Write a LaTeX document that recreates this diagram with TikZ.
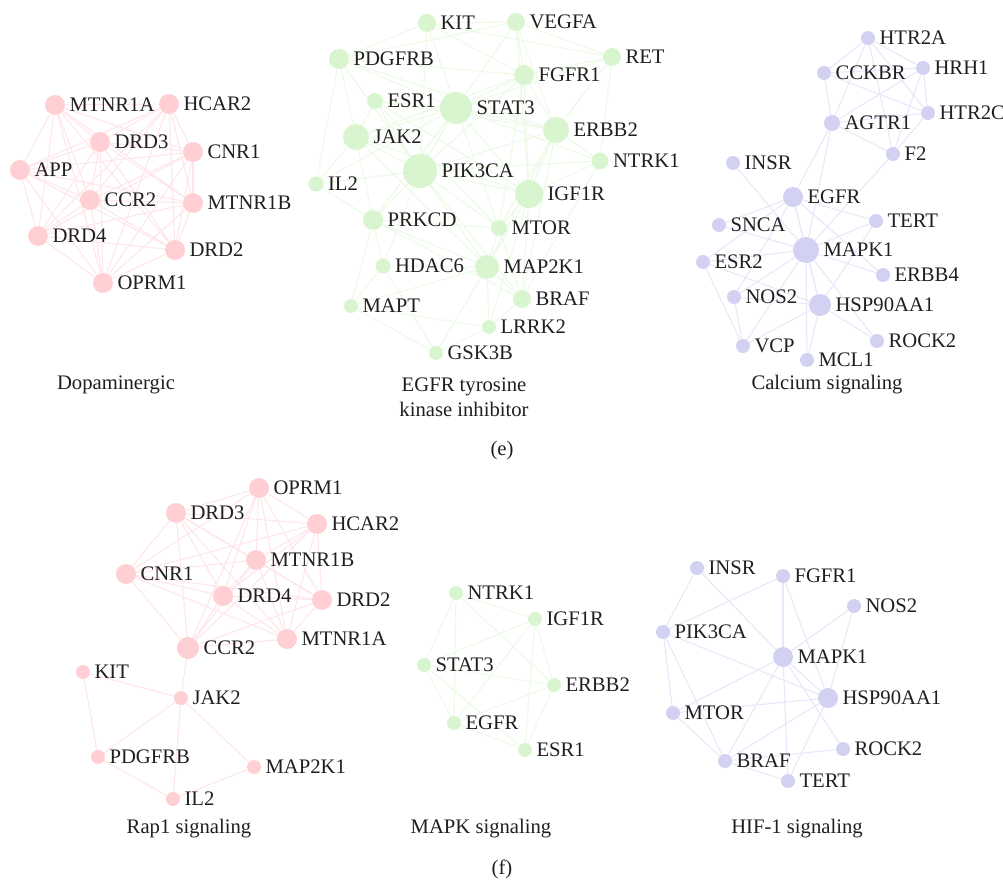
\documentclass[tikz,border=0pt]{standalone}
\usepackage{fontspec}
\setmainfont{Liberation Serif}
\usetikzlibrary{backgrounds}
\definecolor{pinkn}{RGB}{255,207,212}
\definecolor{pinke}{RGB}{254,231,235}
\definecolor{greenn}{RGB}{216,245,207}
\definecolor{greene}{RGB}{236,250,231}
\definecolor{purpn}{RGB}{211,209,241}
\definecolor{purpe}{RGB}{233,232,250}
\newcommand\nd[6]{\node[#1, minimum size={#5*1.5pt}, label={[lab]0:#6}] (#2) at (#3,#4) {};}
\tikzset{
  pn/.style={circle, fill=pinkn, inner sep=0pt, draw=none},
  gn/.style={circle, fill=greenn, inner sep=0pt, draw=none},
  un/.style={circle, fill=purpn, inner sep=0pt, draw=none},
  lab/.style={font=\fontsize{15.5}{17}\selectfont, text=black!88, inner sep=0pt, label distance=3pt, text depth=0pt},
  pe/.style={draw=pinke, line width=0.85pt},
  ge/.style={draw=greene, line width=0.85pt},
  ue/.style={draw=purpe, line width=0.85pt},
  captext/.style={font=\fontsize{15.5}{19}\selectfont, text=black!88, align=center, inner sep=0pt}
}
\begin{document}
\begin{tikzpicture}[x=0.75pt,y=-0.75pt]
\useasboundingbox (0,0) rectangle (1003,880);
% ---------- Dopaminergic ----------
\nd{pn}{dA}{55}{105}{10}{MTNR1A}
\nd{pn}{dB}{169}{104}{10}{HCAR2}
\nd{pn}{dC}{100}{142}{10}{DRD3}
\nd{pn}{dD}{193}{152}{10}{CNR1}
\nd{pn}{dE}{20}{170}{10}{APP}
\nd{pn}{dF}{90}{200}{10}{CCR2}
\nd{pn}{dG}{193}{203}{10}{MTNR1B}
\nd{pn}{dH}{38}{236}{10}{DRD4}
\nd{pn}{dI}{175}{250}{10}{DRD2}
\nd{pn}{dJ}{103}{283}{10}{OPRM1}
\node[captext] (capd) at (116,385) {Dopaminergic};
% ---------- EGFR ----------
\nd{gn}{eKIT}{427}{23}{9}{KIT}
\nd{gn}{eVEGFA}{516}{22}{9}{VEGFA}
\nd{gn}{ePDGFRB}{339}{59}{10}{PDGFRB}
\nd{gn}{eRET}{612}{57}{9}{RET}
\nd{gn}{eFGFR1}{524}{75}{10}{FGFR1}
\nd{gn}{eESR1}{375}{101}{8}{ESR1}
\nd{gn}{eSTAT3}{456}{108}{16}{STAT3}
\nd{gn}{eERBB2}{556}{130}{13}{ERBB2}
\nd{gn}{eJAK2}{356}{137}{13}{JAK2}
\nd{gn}{eNTRK1}{600}{161}{8.5}{NTRK1}
\nd{gn}{ePIK3CA}{420}{171}{17}{PIK3CA}
\nd{gn}{eIL2}{316}{184}{7.5}{IL2}
\nd{gn}{eIGF1R}{529}{194}{14}{IGF1R}
\nd{gn}{ePRKCD}{373}{220}{10}{PRKCD}
\nd{gn}{eMTOR}{499}{228}{8}{MTOR}
\nd{gn}{eHDAC6}{383}{266}{7.5}{HDAC6}
\nd{gn}{eMAP2K1}{487}{267}{12}{MAP2K1}
\nd{gn}{eMAPT}{351}{306}{7}{MAPT}
\nd{gn}{eBRAF}{522}{299}{9}{BRAF}
\nd{gn}{eLRRK2}{489}{327}{7}{LRRK2}
\nd{gn}{eGSK3B}{436}{353}{7}{GSK3B}
\node[captext] (cape) at (464,397) {EGFR tyrosine\\kinase inhibitor};
% ---------- Calcium ----------
\nd{un}{cHTR2A}{868}{38}{7}{HTR2A}
\nd{un}{cCCKBR}{824}{73}{7}{CCKBR}
\nd{un}{cHRH1}{923}{68}{7}{HRH1}
\nd{un}{cHTR2C}{928}{113}{7}{HTR2C}
\nd{un}{cAGTR1}{832}{123}{8}{AGTR1}
\nd{un}{cF2}{893}{154}{7}{F2}
\nd{un}{cINSR}{733}{163}{7}{INSR}
\nd{un}{cEGFR}{793}{197}{10}{EGFR}
\nd{un}{cTERT}{876}{221}{7}{TERT}
\nd{un}{cSNCA}{719}{225}{7}{SNCA}
\nd{un}{cMAPK1}{806}{250}{13}{MAPK1}
\nd{un}{cESR2}{703}{262}{7}{ESR2}
\nd{un}{cERBB4}{883}{275}{7}{ERBB4}
\nd{un}{cNOS2}{734}{297}{7}{NOS2}
\nd{un}{cHSP}{820}{305}{11}{HSP90AA1}
\nd{un}{cROCK2}{877}{341}{7}{ROCK2}
\nd{un}{cVCP}{743}{346}{7}{VCP}
\nd{un}{cMCL1}{807}{360}{7}{MCL1}
\node[captext] (capc) at (827,385) {Calcium signaling};
\node[captext] (cape2) at (502,451) {(e)};
% ---------- Rap1 ----------
\nd{pn}{rOPRM1}{259}{488}{10}{OPRM1}
\nd{pn}{rDRD3}{176}{513}{10}{DRD3}
\nd{pn}{rHCAR2}{317}{524}{10}{HCAR2}
\nd{pn}{rMTNR1B}{256}{560}{10}{MTNR1B}
\nd{pn}{rCNR1}{126}{574}{10}{CNR1}
\nd{pn}{rDRD4}{223}{596}{10}{DRD4}
\nd{pn}{rDRD2}{322}{600}{10}{DRD2}
\nd{pn}{rMTNR1A}{287}{639}{10}{MTNR1A}
\nd{pn}{rCCR2}{188}{648}{11}{CCR2}
\nd{pn}{rKIT}{83}{672}{7}{KIT}
\nd{pn}{rJAK2}{181}{698}{7}{JAK2}
\nd{pn}{rPDGFRB}{98}{757}{7}{PDGFRB}
\nd{pn}{rMAP2K1}{254}{767}{7}{MAP2K1}
\nd{pn}{rIL2}{173}{799}{7}{IL2}
\node[captext] (capr) at (189,829) {Rap1 signaling};
% ---------- MAPK ----------
\nd{gn}{mNTRK1}{456}{593}{7}{NTRK1}
\nd{gn}{mIGF1R}{535}{619}{7}{IGF1R}
\nd{gn}{mSTAT3}{424}{665}{7}{STAT3}
\nd{gn}{mERBB2}{554}{685}{7}{ERBB2}
\nd{gn}{mEGFR}{454}{723}{7}{EGFR}
\nd{gn}{mESR1}{525}{750}{7}{ESR1}
\node[captext] (capm) at (481,829) {MAPK signaling};
% ---------- HIF-1 ----------
\nd{un}{hINSR}{697}{568}{7}{INSR}
\nd{un}{hFGFR1}{783}{576}{7}{FGFR1}
\nd{un}{hNOS2}{854}{606}{7}{NOS2}
\nd{un}{hPIK3CA}{663}{632}{7}{PIK3CA}
\nd{un}{hMAPK1}{783}{657}{10}{MAPK1}
\nd{un}{hHSP}{828}{698}{10}{HSP90AA1}
\nd{un}{hMTOR}{673}{713}{7}{MTOR}
\nd{un}{hROCK2}{843}{749}{7}{ROCK2}
\nd{un}{hBRAF}{725}{761}{7}{BRAF}
\nd{un}{hTERT}{788}{781}{7}{TERT}
\node[captext] (caph) at (797,829) {HIF-1 signaling};
\node[captext] (capf) at (502,869) {(f)};
% ---------- edges ----------
\begin{pgfonlayer}{background}
\foreach \a [count=\i] in {dA,dB,dC,dD,dE,dF,dG,dH,dI,dJ}
  \foreach \b [count=\j] in {dA,dB,dC,dD,dE,dF,dG,dH,dI,dJ}
    {\ifnum\j>\i \draw[pe] (\a) -- (\b);\fi}
\foreach \a [count=\i] in {rOPRM1,rDRD3,rHCAR2,rMTNR1B,rCNR1,rDRD4,rDRD2,rMTNR1A,rCCR2}
  \foreach \b [count=\j] in {rOPRM1,rDRD3,rHCAR2,rMTNR1B,rCNR1,rDRD4,rDRD2,rMTNR1A,rCCR2}
    {\ifnum\j>\i \draw[pe] (\a) -- (\b);\fi}
\foreach \a/\b in {rCCR2/rJAK2,rKIT/rJAK2,rKIT/rPDGFRB,rJAK2/rPDGFRB,rJAK2/rIL2,rJAK2/rMAP2K1,rPDGFRB/rIL2,rIL2/rMAP2K1}
  \draw[pe] (\a) -- (\b);
\foreach \a/\b in {eKIT/ePDGFRB,eKIT/eVEGFA,eKIT/eSTAT3,eKIT/ePIK3CA,eKIT/eFGFR1,eKIT/eRET,eVEGFA/eRET,eVEGFA/eFGFR1,eVEGFA/eSTAT3,eVEGFA/eERBB2,eVEGFA/eIGF1R,eVEGFA/ePDGFRB,ePDGFRB/eJAK2,ePDGFRB/eIL2,ePDGFRB/eSTAT3,ePDGFRB/eERBB2,ePDGFRB/ePIK3CA,ePDGFRB/eFGFR1,eRET/eFGFR1,eRET/eERBB2,eRET/eNTRK1,eRET/eSTAT3,eFGFR1/eSTAT3,eFGFR1/eERBB2,eFGFR1/eIGF1R,eFGFR1/ePIK3CA,eFGFR1/eMTOR,eFGFR1/eJAK2,eESR1/eSTAT3,eESR1/eERBB2,eESR1/eJAK2,eESR1/ePIK3CA,eESR1/eIGF1R,eESR1/eMTOR,eSTAT3/eJAK2,eSTAT3/ePIK3CA,eSTAT3/eERBB2,eSTAT3/eIGF1R,eSTAT3/eMTOR,eSTAT3/eIL2,eSTAT3/eNTRK1,eSTAT3/ePRKCD,eERBB2/ePIK3CA,eERBB2/eIGF1R,eERBB2/eNTRK1,eERBB2/eMAP2K1,eERBB2/eMTOR,eERBB2/eBRAF,eJAK2/ePIK3CA,eJAK2/eIL2,eJAK2/ePRKCD,eJAK2/eIGF1R,eJAK2/eMAP2K1,eNTRK1/ePIK3CA,eNTRK1/eIGF1R,eNTRK1/eBRAF,ePIK3CA/eIGF1R,ePIK3CA/eMTOR,ePIK3CA/ePRKCD,ePIK3CA/eMAP2K1,ePIK3CA/eHDAC6,ePIK3CA/eIL2,ePIK3CA/eBRAF,eIL2/ePRKCD,eIGF1R/eMTOR,eIGF1R/eMAP2K1,eIGF1R/eBRAF,eIGF1R/eLRRK2,ePRKCD/eMTOR,ePRKCD/eMAP2K1,ePRKCD/eHDAC6,ePRKCD/eMAPT,ePRKCD/eBRAF,eMTOR/eMAP2K1,eMTOR/eBRAF,eHDAC6/eMAP2K1,eHDAC6/eMAPT,eHDAC6/eGSK3B,eMAP2K1/eBRAF,eMAP2K1/eLRRK2,eMAP2K1/eGSK3B,eMAPT/eGSK3B,eMAPT/eLRRK2,eMAPT/eMAP2K1,eBRAF/eLRRK2,eLRRK2/eGSK3B}
  \draw[ge] (\a) -- (\b);
\foreach \a/\b in {mNTRK1/mIGF1R,mNTRK1/mSTAT3,mNTRK1/mEGFR,mNTRK1/mERBB2,mIGF1R/mSTAT3,mIGF1R/mEGFR,mIGF1R/mESR1,mIGF1R/mERBB2,mSTAT3/mERBB2,mSTAT3/mEGFR,mSTAT3/mESR1,mERBB2/mEGFR,mERBB2/mESR1,mEGFR/mESR1}
  \draw[ge] (\a) -- (\b);
\foreach \a/\b in {cHTR2A/cCCKBR,cHTR2A/cHRH1,cHTR2A/cHTR2C,cHTR2A/cAGTR1,cHTR2A/cF2,cCCKBR/cHRH1,cCCKBR/cAGTR1,cCCKBR/cHTR2C,cHRH1/cHTR2C,cHRH1/cAGTR1,cHRH1/cF2,cHTR2C/cAGTR1,cHTR2C/cF2,cAGTR1/cF2,cAGTR1/cEGFR,cAGTR1/cMAPK1,cF2/cMAPK1,cINSR/cMAPK1,cEGFR/cTERT,cEGFR/cMAPK1,cEGFR/cSNCA,cEGFR/cESR2,cEGFR/cHSP,cEGFR/cNOS2,cEGFR/cERBB4,cMAPK1/cTERT,cMAPK1/cESR2,cMAPK1/cERBB4,cMAPK1/cNOS2,cMAPK1/cHSP,cMAPK1/cVCP,cMAPK1/cMCL1,cMAPK1/cROCK2,cMAPK1/cSNCA,cHSP/cESR2,cHSP/cNOS2,cHSP/cVCP,cHSP/cMCL1,cHSP/cROCK2,cHSP/cTERT,cESR2/cVCP,cNOS2/cVCP}
  \draw[ue] (\a) -- (\b);
\foreach \a/\b in {hINSR/hPIK3CA,hINSR/hMAPK1,hFGFR1/hPIK3CA,hFGFR1/hMAPK1,hFGFR1/hHSP,hNOS2/hMAPK1,hNOS2/hHSP,hPIK3CA/hHSP,hPIK3CA/hMTOR,hPIK3CA/hBRAF,hMAPK1/hMTOR,hMAPK1/hBRAF,hMAPK1/hTERT,hMAPK1/hROCK2,hMAPK1/hHSP,hHSP/hMTOR,hHSP/hBRAF,hHSP/hTERT,hMTOR/hBRAF,hBRAF/hROCK2,hBRAF/hTERT}
  \draw[ue] (\a) -- (\b);
\end{pgfonlayer}
\end{tikzpicture}
\end{document}
